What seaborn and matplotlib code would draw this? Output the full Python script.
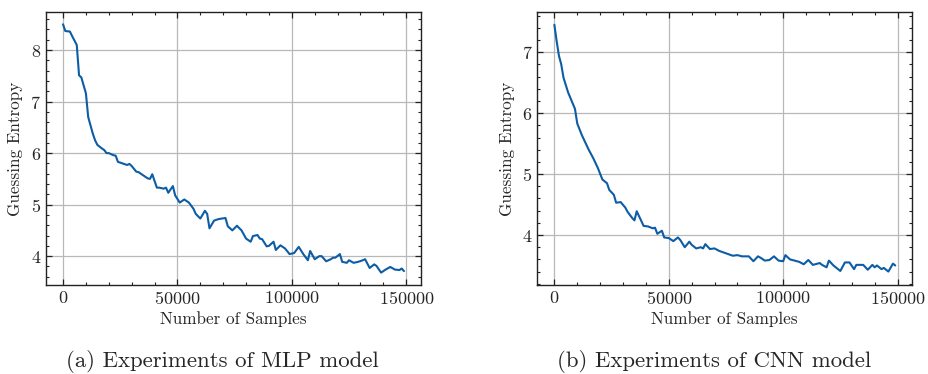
import numpy as np
import pandas as pd
import matplotlib
matplotlib.use('Agg')
import matplotlib.pyplot as plt
import seaborn as sns
from matplotlib.ticker import MultipleLocator

# Guessing entropy readings, MLP model
mlp_samples = [0, 1000, 3000, 4000, 6000, 7000, 8000, 10000, 11000, 13000, 14000, 15000,
               17000, 18000, 19000, 20000, 22000, 23000, 24000, 26000, 28000, 29000, 30000,
               32000, 33000, 35000, 37000, 38000, 39000, 41000, 42000, 44000, 45000, 46000,
               48000, 49000, 51000, 53000, 55000, 57000, 58000, 60000, 62000, 63000, 64000,
               66000, 68000, 71000, 72000, 74000, 76000, 78000, 80000, 82000, 83000, 85000,
               86000, 87000, 89000, 90000, 92000, 93000, 95000, 97000, 99000, 101000, 103000,
               105000, 107000, 108000, 110000, 112000, 113000, 115000, 117000, 118000, 119000,
               121000, 122000, 124000, 125000, 127000, 129000, 131000, 132000, 134000, 136000,
               137000, 139000, 141000, 143000, 145000, 147000, 148000, 149000]
mlp_ge = [8.50, 8.37, 8.36, 8.27, 8.10, 7.51, 7.47, 7.16, 6.70, 6.38, 6.25, 6.16,
          6.09, 6.06, 6.00, 6.00, 5.96, 5.95, 5.83, 5.80, 5.77, 5.79, 5.75,
          5.64, 5.63, 5.57, 5.51, 5.50, 5.59, 5.33, 5.33, 5.31, 5.33, 5.23,
          5.36, 5.18, 5.04, 5.10, 5.04, 4.92, 4.82, 4.73, 4.88, 4.82, 4.54,
          4.69, 4.72, 4.74, 4.58, 4.50, 4.59, 4.50, 4.34, 4.28, 4.39, 4.41,
          4.34, 4.33, 4.19, 4.20, 4.28, 4.12, 4.21, 4.15, 4.04, 4.06, 4.18,
          4.04, 3.92, 4.10, 3.94, 4.00, 4.00, 3.90, 3.94, 3.97, 3.97,
          4.04, 3.89, 3.87, 3.92, 3.87, 3.89, 3.92, 3.94, 3.77, 3.84,
          3.81, 3.68, 3.74, 3.79, 3.74, 3.73, 3.76, 3.71]

# Guessing entropy readings, CNN model
cnn_samples = [0, 1000, 2000, 3000, 4000, 6000, 7000, 9000, 10000, 12000, 13000, 15000,
               17000, 19000, 21000, 23000, 24000, 26000, 27000, 29000, 31000, 32000, 34000,
               35000, 36000, 38000, 39000, 41000, 43000, 44000, 45000, 47000, 48000, 50000,
               52000, 54000, 55000, 57000, 59000, 60000, 62000, 64000, 65000, 66000, 68000,
               70000, 72000, 75000, 78000, 80000, 82000, 85000, 87000, 89000, 90000, 92000,
               94000, 96000, 98000, 100000, 101000, 103000, 105000, 107000, 109000, 111000,
               113000, 116000, 117000, 119000, 120000, 122000, 123000, 125000, 127000, 129000,
               131000, 132000, 135000, 137000, 139000, 140000, 141000, 143000, 144000, 146000,
               148000, 149000]
cnn_ge = [7.45, 7.18, 6.94, 6.80, 6.58, 6.34, 6.25, 6.07, 5.83, 5.64, 5.56, 5.40,
          5.26, 5.10, 4.91, 4.85, 4.74, 4.66, 4.53, 4.54, 4.45, 4.38, 4.28,
          4.24, 4.39, 4.23, 4.15, 4.14, 4.11, 4.12, 4.02, 4.07, 3.96, 3.95,
          3.90, 3.96, 3.92, 3.80, 3.89, 3.84, 3.78, 3.80, 3.78, 3.85, 3.77,
          3.78, 3.74, 3.70, 3.66, 3.67, 3.65, 3.65, 3.57, 3.65, 3.63, 3.58,
          3.59, 3.65, 3.58, 3.57, 3.67, 3.60, 3.58, 3.56, 3.52, 3.59,
          3.51, 3.54, 3.51, 3.47, 3.58, 3.50, 3.47, 3.41, 3.55, 3.55,
          3.44, 3.51, 3.51, 3.43, 3.51, 3.47, 3.50, 3.44, 3.46, 3.40,
          3.53, 3.50]

captions = ['(a) Experiments of MLP model', '(b) Experiments of CNN model']

sns.set_style('ticks')
plt.rcParams['font.family'] = ['cmr10', 'DejaVu Serif']
plt.rcParams['axes.formatter.use_mathtext'] = True
plt.rcParams['mathtext.fontset'] = 'cm'

fig = plt.figure(figsize=(9.29, 3.74), dpi=100)
ax1 = fig.add_axes([0.0495, 0.238, 0.4037, 0.730])
ax2 = fig.add_axes([0.5784, 0.238, 0.4036, 0.730])

frames = [pd.DataFrame({'samples': mlp_samples, 'ge': mlp_ge}),
          pd.DataFrame({'samples': cnn_samples, 'ge': cnn_ge})]

for ax, df in zip([ax1, ax2], frames):
    sns.lineplot(data=df, x='samples', y='ge', ax=ax, color='#0C5DA5', linewidth=1.5)
    ax.set_xlabel('Number of Samples', fontsize=12.3, labelpad=3)
    ax.set_ylabel('Guessing Entropy', fontsize=12.3, labelpad=5)
    ax.xaxis.set_major_locator(MultipleLocator(50000))
    ax.xaxis.set_minor_locator(MultipleLocator(10000))
    ax.yaxis.set_major_locator(MultipleLocator(1))
    ax.yaxis.set_minor_locator(MultipleLocator(0.2))
    ax.tick_params(which='both', direction='in', top=True, right=True, labelsize=13,
                   color='#222222')
    ax.tick_params(which='major', length=4.5, width=0.9)
    ax.tick_params(which='minor', length=2.5, width=0.8)
    ax.grid(True, which='major', color='#b8b8b8', linewidth=0.9)
    for s in ax.spines.values():
        s.set_linewidth(1.0)
        s.set_color('#222222')

ax1.set_ylim(3.44, 8.74)
ax2.set_ylim(3.18, 7.66)

fig.text(0.2395, 0.033, captions[0], ha='center', va='center', fontsize=16.4)
fig.text(0.769, 0.033, captions[1], ha='center', va='center', fontsize=16.4)

fig.savefig('out.png', dpi=100)
